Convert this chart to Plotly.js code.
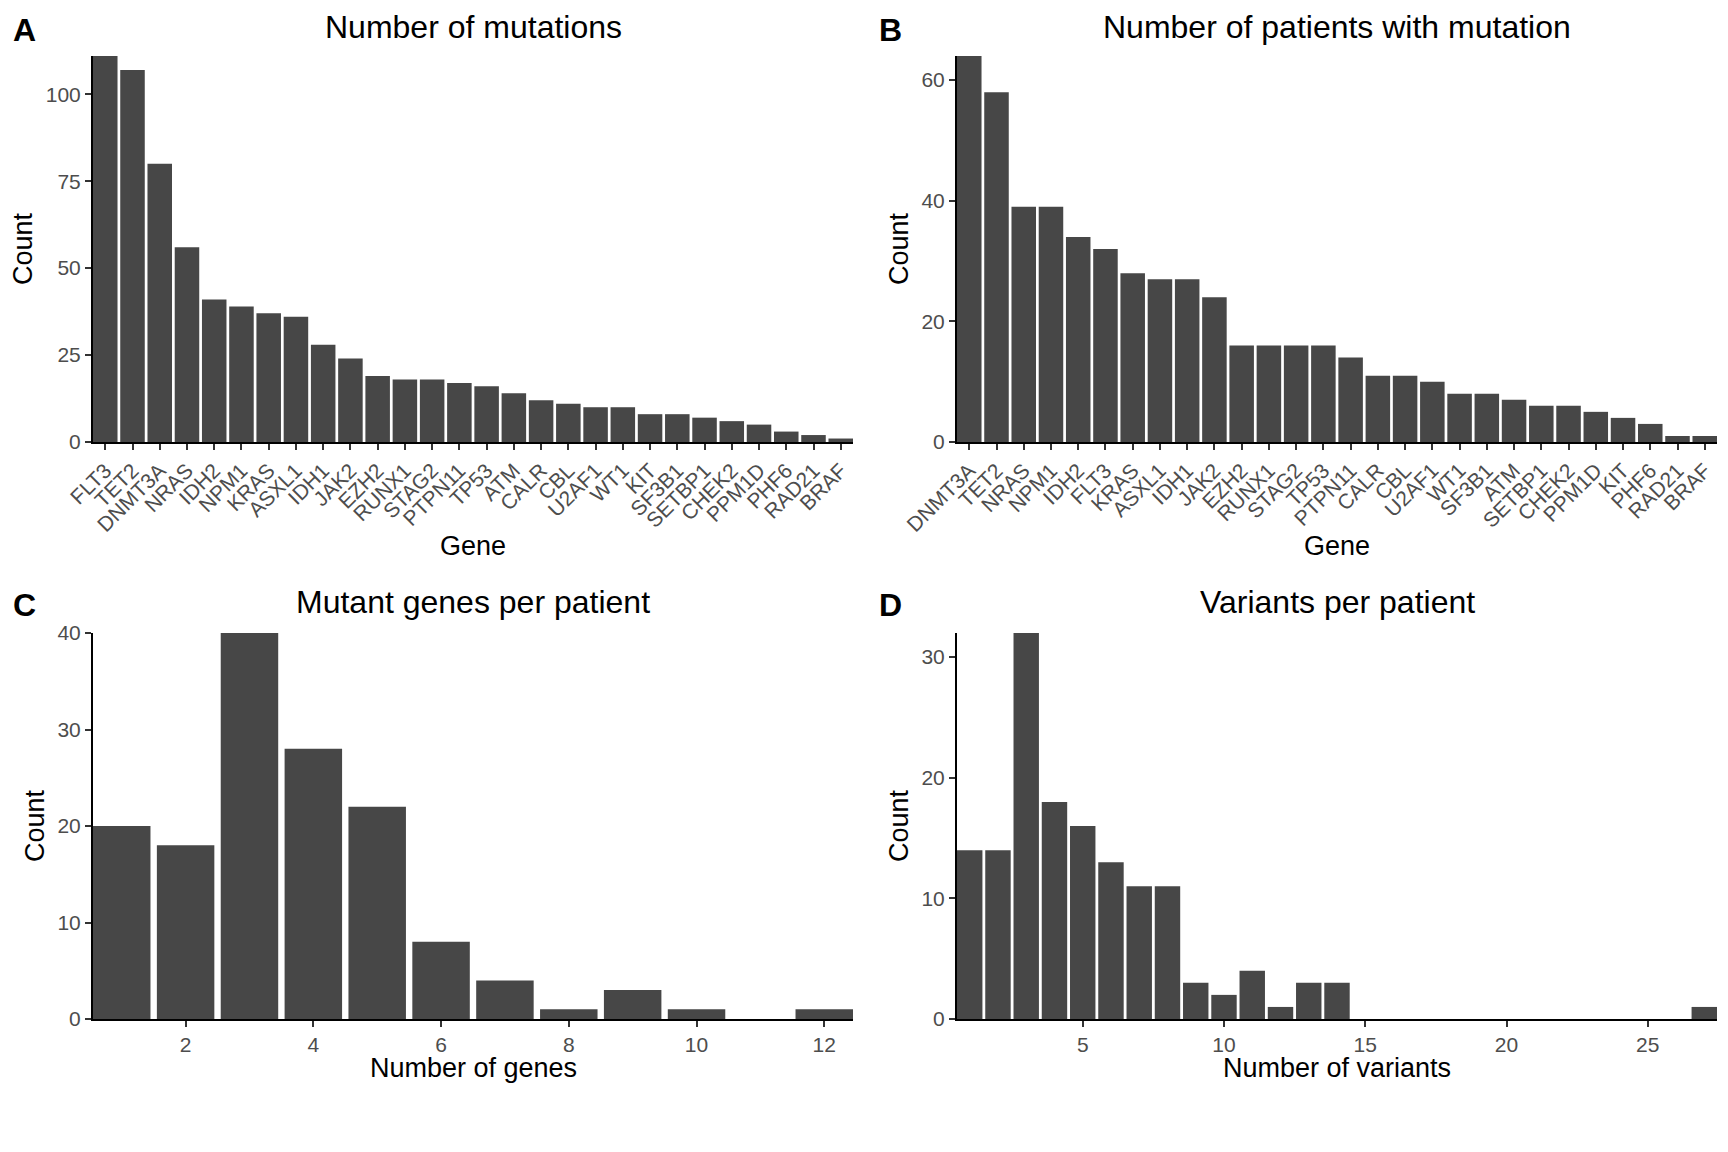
<!DOCTYPE html>
<html>
<head>
<meta charset="utf-8">
<script src="https://cdn.plot.ly/plotly-3.0.1.min.js"></script>
<style>html,body{margin:0;padding:0;background:#fff;}</style>
</head>
<body>
<div id="chart" style="width:1728px;height:1152px;"></div>
<script>
// Panel A: number of mutations per gene
const genesA = ["FLT3","TET2","DNMT3A","NRAS","IDH2","NPM1","KRAS","ASXL1","IDH1","JAK2","EZH2","RUNX1","STAG2","PTPN11","TP53","ATM","CALR","CBL","U2AF1","WT1","KIT","SF3B1","SETBP1","CHEK2","PPM1D","PHF6","RAD21","BRAF"];
const countsA = [111,107,80,56,41,39,37,36,28,24,19,18,18,17,16,14,12,11,10,10,8,8,7,6,5,3,2,1];

// Panel B: number of patients with mutation
const genesB = ["DNMT3A","TET2","NRAS","NPM1","IDH2","FLT3","KRAS","ASXL1","IDH1","JAK2","EZH2","RUNX1","STAG2","TP53","PTPN11","CALR","CBL","U2AF1","WT1","SF3B1","ATM","SETBP1","CHEK2","PPM1D","KIT","PHF6","RAD21","BRAF"];
const countsB = [64,58,39,39,34,32,28,27,27,24,16,16,16,16,14,11,11,10,8,8,7,6,6,5,4,3,1,1];

// Panel C: mutant genes per patient
const nGenes = [1,2,3,4,5,6,7,8,9,10,11,12];
const patientsByGenes = [20,18,40,28,22,8,4,1,3,1,0,1];

// Panel D: variants per patient
const nVariants = [1,2,3,4,5,6,7,8,9,10,11,12,13,14,15,16,17,18,19,20,21,22,23,24,25,26,27];
const patientsByVariants = [14,14,32,18,16,13,11,11,3,2,4,1,3,3,0,0,0,0,0,0,0,0,0,0,0,0,1];

const tickValsA = [0,25,50,75,100];
const tickValsB = [0,20,40,60];
const tickValsC = [0,10,20,30,40];
const tickValsD = [0,10,20,30];
const xTicksC = [2,4,6,8,10,12];
const xTicksD = [5,10,15,20,25];

const FONT = "Liberation Sans, Arial, Helvetica, sans-serif";
const BAR = "#474747";
const W = 1728, H = 1152;

function px(x){ return x / W; }
function py(y){ return 1 - y / H; }

const xDomL = [px(93), px(853)];
const xDomR = [px(957), px(1717)];
const yDomT = [py(442), py(56)];
const yDomB = [py(1019), py(633)];

const axisBase = {
  showline: true, linecolor: "#000", linewidth: 2,
  ticks: "outside", ticklen: 6, tickwidth: 2, tickcolor: "#333",
  showgrid: false, zeroline: false, fixedrange: true,
  tickfont: {family: FONT, size: 21, color: "#4D4D4D"}
};

function ax(extra){ return Object.assign({}, axisBase, extra); }

const traces = [
  {type: "bar", x: genesA, y: countsA, xaxis: "x", yaxis: "y", marker: {color: BAR}, hoverinfo: "x+y"},
  {type: "bar", x: genesB, y: countsB, xaxis: "x2", yaxis: "y2", marker: {color: BAR}, hoverinfo: "x+y"},
  {type: "bar", x: nGenes, y: patientsByGenes, xaxis: "x3", yaxis: "y3", marker: {color: BAR}, hoverinfo: "x+y"},
  {type: "bar", x: nVariants, y: patientsByVariants, xaxis: "x4", yaxis: "y4", marker: {color: BAR}, hoverinfo: "x+y"}
];

function ann(text, x, y, size, opts){
  return Object.assign({text: text, x: x, y: y, xref: "paper", yref: "paper",
    showarrow: false, xanchor: "center", yanchor: "middle",
    font: {family: FONT, size: size, color: "#000"}}, opts || {});
}

const annotations = [
  ann("<b>A</b>", px(24), py(30), 32),
  ann("<b>B</b>", px(890), py(30), 32),
  ann("<b>C</b>", px(24), py(605), 32),
  ann("<b>D</b>", px(890), py(605), 32),
  ann("Number of mutations", (xDomL[0]+xDomL[1])/2, py(27), 32),
  ann("Number of patients with mutation", (xDomR[0]+xDomR[1])/2, py(27), 32),
  ann("Mutant genes per patient", (xDomL[0]+xDomL[1])/2, py(602), 32),
  ann("Variants per patient", (xDomR[0]+xDomR[1])/2, py(602), 32),
  ann("Gene", (xDomL[0]+xDomL[1])/2, py(546), 27),
  ann("Gene", (xDomR[0]+xDomR[1])/2, py(546), 27),
  ann("Number of genes", (xDomL[0]+xDomL[1])/2, py(1068), 27),
  ann("Number of variants", (xDomR[0]+xDomR[1])/2, py(1068), 27),
  ann("Count", px(23), py(249), 27, {textangle: -90}),
  ann("Count", px(899), py(249), 27, {textangle: -90}),
  ann("Count", px(35), py(826), 27, {textangle: -90}),
  ann("Count", px(899), py(826), 27, {textangle: -90})
];

const layout = {
  width: W, height: H,
  margin: {l: 0, r: 0, t: 0, b: 0},
  paper_bgcolor: "#fff", plot_bgcolor: "#fff",
  showlegend: false, bargap: 0.1,
  font: {family: FONT},
  xaxis: ax({domain: xDomL, anchor: "y", type: "category", range: [-0.45, genesA.length - 0.55], tickangle: -45}),
  yaxis: ax({domain: yDomT, anchor: "x", range: [0, 111], tickvals: tickValsA}),
  xaxis2: ax({domain: xDomR, anchor: "y2", type: "category", range: [-0.45, genesB.length - 0.55], tickangle: -45}),
  yaxis2: ax({domain: yDomT, anchor: "x2", range: [0, 64], tickvals: tickValsB}),
  xaxis3: ax({domain: xDomL, anchor: "y3", range: [0.55, 12.45], tickvals: xTicksC}),
  yaxis3: ax({domain: yDomB, anchor: "x3", range: [0, 40], tickvals: tickValsC}),
  xaxis4: ax({domain: xDomR, anchor: "y4", range: [0.55, 27.45], tickvals: xTicksD}),
  yaxis4: ax({domain: yDomB, anchor: "x4", range: [0, 32], tickvals: tickValsD}),
  annotations: annotations
};

Plotly.newPlot("chart", traces, layout, {displayModeBar: false, staticPlot: true});
</script>
</body>
</html>
